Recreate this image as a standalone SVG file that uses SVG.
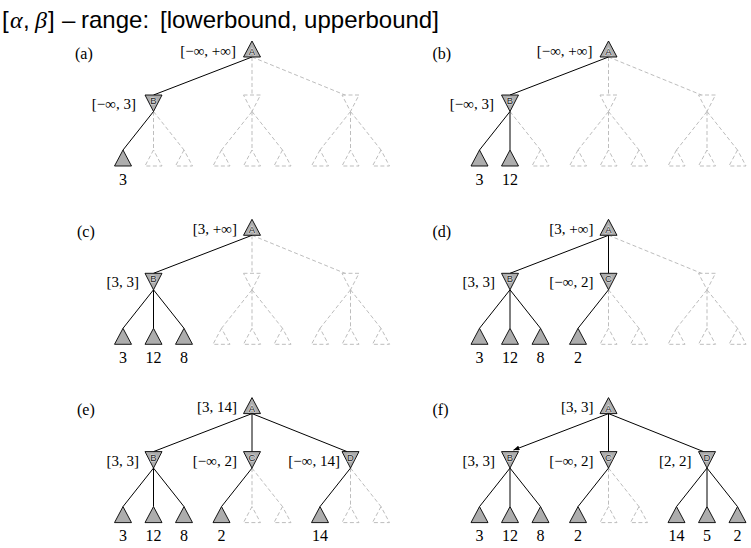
<svg xmlns="http://www.w3.org/2000/svg" width="751" height="548" viewBox="0 0 751 548">
<defs>
<marker id="arr" markerWidth="6" markerHeight="5" refX="6" refY="2.5" orient="auto" markerUnits="userSpaceOnUse">
<path d="M0,0 L6,2.5 L0,5 z" fill="#000"/>
</marker>
</defs>
<style>
.s{stroke:#000;stroke-width:1;fill:none}
.d{stroke:#bdbdbd;stroke-width:1;stroke-dasharray:4 2.5;fill:none}
.tri{fill:#adadad;stroke:#000;stroke-width:0.9}
.g{fill:none;stroke:#bdbdbd;stroke-width:1;stroke-dasharray:4 2.5}
.nl{font-family:"Liberation Sans",sans-serif;font-size:9.5px;fill:#222;stroke:#dcdcdc;stroke-width:1.2;paint-order:stroke;text-anchor:middle}
.lab{font-family:"Liberation Serif",serif;font-size:15px;text-anchor:end;fill:#000}
.val{font-family:"Liberation Serif",serif;font-size:16px;text-anchor:middle;fill:#000}
.pl{font-family:"Liberation Serif",serif;font-size:16px;fill:#000}
.title{font-family:"Liberation Sans",sans-serif;font-size:24px;fill:#000}
.gr{font-family:"Liberation Serif",serif;font-style:italic}
</style>
<text class="title" y="28"><tspan x="2">[</tspan><tspan class="gr" x="10">α</tspan><tspan x="23">,</tspan><tspan class="gr" x="35">β</tspan><tspan x="48">]</tspan><tspan x="62">–</tspan><tspan x="81">range:</tspan><tspan x="160">[lowerbound, upperbound]</tspan></text>

<!-- Panel (a) -->
<g id="panel-a">
<text class="pl" x="75" y="58.5">(a)</text>
<g id="a-edges">
<line class="d" x1="252" y1="57" x2="252" y2="95"/>
<line class="d" x1="252" y1="57" x2="345" y2="95"/>
<line class="d" x1="153.5" y1="111.5" x2="153.5" y2="150"/>
<line class="d" x1="153.5" y1="111.5" x2="184" y2="150"/>
<line class="d" x1="252" y1="111.5" x2="221.5" y2="150"/>
<line class="d" x1="252" y1="111.5" x2="252" y2="150"/>
<line class="d" x1="252" y1="111.5" x2="282.5" y2="150"/>
<line class="d" x1="350.5" y1="111.5" x2="320" y2="150"/>
<line class="d" x1="350.5" y1="111.5" x2="350.5" y2="150"/>
<line class="d" x1="350.5" y1="111.5" x2="381" y2="150"/>
<line class="s" x1="252" y1="57" x2="153.5" y2="95"/>
<line class="s" x1="153.5" y1="111.5" x2="123" y2="150"/>
</g>
<g id="a-A"><polygon class="tri" points="252,41 243.5,57 260.5,57"/><text class="nl" x="252" y="55">A</text><text class="lab" x="236" y="55.5">[−∞, +∞]</text></g>
<g id="a-B"><polygon class="tri" points="145,95 162,95 153.5,111.5"/><text class="nl" x="153.5" y="104">B</text><text class="lab" x="136" y="109">[−∞, 3]</text></g>
<g id="a-C"><polygon class="g" points="243.5,95 260.5,95 252,111.5"/></g>
<g id="a-D"><polygon class="g" points="342,95 359,95 350.5,111.5"/></g>
<g id="a-B1"><polygon class="tri" points="123,150 114.5,166 131.5,166"/><text class="val" x="123" y="184.5">3</text></g>
<g id="a-B2"><polygon class="g" points="153.5,150 145,166 162,166"/></g>
<g id="a-B3"><polygon class="g" points="184,150 175.5,166 192.5,166"/></g>
<g id="a-C1"><polygon class="g" points="221.5,150 213,166 230,166"/></g>
<g id="a-C2"><polygon class="g" points="252,150 243.5,166 260.5,166"/></g>
<g id="a-C3"><polygon class="g" points="282.5,150 274,166 291,166"/></g>
<g id="a-D1"><polygon class="g" points="320,150 311.5,166 328.5,166"/></g>
<g id="a-D2"><polygon class="g" points="350.5,150 342,166 359,166"/></g>
<g id="a-D3"><polygon class="g" points="381,150 372.5,166 389.5,166"/></g>
</g>

<!-- Panel (b) -->
<g id="panel-b" transform="translate(356.5,0)">
<text class="pl" x="76" y="58.5">(b)</text>
<g id="b-edges">
<line class="d" x1="252" y1="57" x2="252" y2="95"/>
<line class="d" x1="252" y1="57" x2="345" y2="95"/>
<line class="d" x1="153.5" y1="111.5" x2="184" y2="150"/>
<line class="d" x1="252" y1="111.5" x2="221.5" y2="150"/>
<line class="d" x1="252" y1="111.5" x2="252" y2="150"/>
<line class="d" x1="252" y1="111.5" x2="282.5" y2="150"/>
<line class="d" x1="350.5" y1="111.5" x2="320" y2="150"/>
<line class="d" x1="350.5" y1="111.5" x2="350.5" y2="150"/>
<line class="d" x1="350.5" y1="111.5" x2="381" y2="150"/>
<line class="s" x1="252" y1="57" x2="153.5" y2="95"/>
<line class="s" x1="153.5" y1="111.5" x2="123" y2="150"/>
<line class="s" x1="153.5" y1="111.5" x2="153.5" y2="150"/>
</g>
<g id="b-A"><polygon class="tri" points="252,41 243.5,57 260.5,57"/><text class="nl" x="252" y="55">A</text><text class="lab" x="236" y="55.5">[−∞, +∞]</text></g>
<g id="b-B"><polygon class="tri" points="145,95 162,95 153.5,111.5"/><text class="nl" x="153.5" y="104">B</text><text class="lab" x="137.5" y="109">[−∞, 3]</text></g>
<g id="b-C"><polygon class="g" points="243.5,95 260.5,95 252,111.5"/></g>
<g id="b-D"><polygon class="g" points="342,95 359,95 350.5,111.5"/></g>
<g id="b-B1"><polygon class="tri" points="123,150 114.5,166 131.5,166"/><text class="val" x="123" y="184.5">3</text></g>
<g id="b-B2"><polygon class="tri" points="153.5,150 145,166 162,166"/><text class="val" x="153.5" y="184.5">12</text></g>
<g id="b-B3"><polygon class="g" points="184,150 175.5,166 192.5,166"/></g>
<g id="b-C1"><polygon class="g" points="221.5,150 213,166 230,166"/></g>
<g id="b-C2"><polygon class="g" points="252,150 243.5,166 260.5,166"/></g>
<g id="b-C3"><polygon class="g" points="282.5,150 274,166 291,166"/></g>
<g id="b-D1"><polygon class="g" points="320,150 311.5,166 328.5,166"/></g>
<g id="b-D2"><polygon class="g" points="350.5,150 342,166 359,166"/></g>
<g id="b-D3"><polygon class="g" points="381,150 372.5,166 389.5,166"/></g>
</g>

<!-- Panel (c) -->
<g id="panel-c" transform="translate(0,178.3)">
<text class="pl" x="77" y="58.5">(c)</text>
<g id="c-edges">
<line class="d" x1="252" y1="57" x2="252" y2="95"/>
<line class="d" x1="252" y1="57" x2="345" y2="95"/>
<line class="d" x1="252" y1="111.5" x2="221.5" y2="150"/>
<line class="d" x1="252" y1="111.5" x2="252" y2="150"/>
<line class="d" x1="252" y1="111.5" x2="282.5" y2="150"/>
<line class="d" x1="350.5" y1="111.5" x2="320" y2="150"/>
<line class="d" x1="350.5" y1="111.5" x2="350.5" y2="150"/>
<line class="d" x1="350.5" y1="111.5" x2="381" y2="150"/>
<line class="s" x1="252" y1="57" x2="153.5" y2="95"/>
<line class="s" x1="153.5" y1="111.5" x2="123" y2="150"/>
<line class="s" x1="153.5" y1="111.5" x2="153.5" y2="150"/>
<line class="s" x1="153.5" y1="111.5" x2="184" y2="150"/>
</g>
<g id="c-A"><polygon class="tri" points="252,41 243.5,57 260.5,57"/><text class="nl" x="252" y="55">A</text><text class="lab" x="237" y="55.5">[3, +∞]</text></g>
<g id="c-B"><polygon class="tri" points="145,95 162,95 153.5,111.5"/><text class="nl" x="153.5" y="104">B</text><text class="lab" x="139" y="109">[3, 3]</text></g>
<g id="c-C"><polygon class="g" points="243.5,95 260.5,95 252,111.5"/></g>
<g id="c-D"><polygon class="g" points="342,95 359,95 350.5,111.5"/></g>
<g id="c-B1"><polygon class="tri" points="123,150 114.5,166 131.5,166"/><text class="val" x="123" y="184.5">3</text></g>
<g id="c-B2"><polygon class="tri" points="153.5,150 145,166 162,166"/><text class="val" x="153.5" y="184.5">12</text></g>
<g id="c-B3"><polygon class="tri" points="184,150 175.5,166 192.5,166"/><text class="val" x="184" y="184.5">8</text></g>
<g id="c-C1"><polygon class="g" points="221.5,150 213,166 230,166"/></g>
<g id="c-C2"><polygon class="g" points="252,150 243.5,166 260.5,166"/></g>
<g id="c-C3"><polygon class="g" points="282.5,150 274,166 291,166"/></g>
<g id="c-D1"><polygon class="g" points="320,150 311.5,166 328.5,166"/></g>
<g id="c-D2"><polygon class="g" points="350.5,150 342,166 359,166"/></g>
<g id="c-D3"><polygon class="g" points="381,150 372.5,166 389.5,166"/></g>
</g>

<!-- Panel (d) -->
<g id="panel-d" transform="translate(356.5,178.3)">
<text class="pl" x="76" y="58.5">(d)</text>
<g id="d-edges">
<line class="d" x1="252" y1="57" x2="345" y2="95"/>
<line class="d" x1="252" y1="111.5" x2="252" y2="150"/>
<line class="d" x1="252" y1="111.5" x2="282.5" y2="150"/>
<line class="d" x1="350.5" y1="111.5" x2="320" y2="150"/>
<line class="d" x1="350.5" y1="111.5" x2="350.5" y2="150"/>
<line class="d" x1="350.5" y1="111.5" x2="381" y2="150"/>
<line class="s" x1="252" y1="57" x2="153.5" y2="95"/>
<line class="s" x1="252" y1="57" x2="252" y2="95"/>
<line class="s" x1="153.5" y1="111.5" x2="123" y2="150"/>
<line class="s" x1="153.5" y1="111.5" x2="153.5" y2="150"/>
<line class="s" x1="153.5" y1="111.5" x2="184" y2="150"/>
<line class="s" x1="252" y1="111.5" x2="221.5" y2="150"/>
</g>
<g id="d-A"><polygon class="tri" points="252,41 243.5,57 260.5,57"/><text class="nl" x="252" y="55">A</text><text class="lab" x="237" y="55.5">[3, +∞]</text></g>
<g id="d-B"><polygon class="tri" points="145,95 162,95 153.5,111.5"/><text class="nl" x="153.5" y="104">B</text><text class="lab" x="138.5" y="109">[3, 3]</text></g>
<g id="d-C"><polygon class="tri" points="243.5,95 260.5,95 252,111.5"/><text class="nl" x="252" y="104">C</text><text class="lab" x="237" y="109">[−∞, 2]</text></g>
<g id="d-D"><polygon class="g" points="342,95 359,95 350.5,111.5"/></g>
<g id="d-B1"><polygon class="tri" points="123,150 114.5,166 131.5,166"/><text class="val" x="123" y="184.5">3</text></g>
<g id="d-B2"><polygon class="tri" points="153.5,150 145,166 162,166"/><text class="val" x="153.5" y="184.5">12</text></g>
<g id="d-B3"><polygon class="tri" points="184,150 175.5,166 192.5,166"/><text class="val" x="184" y="184.5">8</text></g>
<g id="d-C1"><polygon class="tri" points="221.5,150 213,166 230,166"/><text class="val" x="221.5" y="184.5">2</text></g>
<g id="d-C2"><polygon class="g" points="252,150 243.5,166 260.5,166"/></g>
<g id="d-C3"><polygon class="g" points="282.5,150 274,166 291,166"/></g>
<g id="d-D1"><polygon class="g" points="320,150 311.5,166 328.5,166"/></g>
<g id="d-D2"><polygon class="g" points="350.5,150 342,166 359,166"/></g>
<g id="d-D3"><polygon class="g" points="381,150 372.5,166 389.5,166"/></g>
</g>

<!-- Panel (e) -->
<g id="panel-e" transform="translate(0,356.6)">
<text class="pl" x="77" y="58.5">(e)</text>
<g id="e-edges">
<line class="d" x1="252" y1="111.5" x2="252" y2="150"/>
<line class="d" x1="252" y1="111.5" x2="282.5" y2="150"/>
<line class="d" x1="350.5" y1="111.5" x2="350.5" y2="150"/>
<line class="d" x1="350.5" y1="111.5" x2="381" y2="150"/>
<line class="s" x1="252" y1="57" x2="153.5" y2="95"/>
<line class="s" x1="252" y1="57" x2="252" y2="95"/>
<line class="s" x1="252" y1="57" x2="347" y2="95"/>
<line class="s" x1="153.5" y1="111.5" x2="123" y2="150"/>
<line class="s" x1="153.5" y1="111.5" x2="153.5" y2="150"/>
<line class="s" x1="153.5" y1="111.5" x2="184" y2="150"/>
<line class="s" x1="252" y1="111.5" x2="221.5" y2="150"/>
<line class="s" x1="350.5" y1="111.5" x2="320" y2="150"/>
</g>
<g id="e-A"><polygon class="tri" points="252,41 243.5,57 260.5,57"/><text class="nl" x="252" y="55">A</text><text class="lab" x="237" y="55.5">[3, 14]</text></g>
<g id="e-B"><polygon class="tri" points="145,95 162,95 153.5,111.5"/><text class="nl" x="153.5" y="104">B</text><text class="lab" x="139" y="109">[3, 3]</text></g>
<g id="e-C"><polygon class="tri" points="243.5,95 260.5,95 252,111.5"/><text class="nl" x="252" y="104">C</text><text class="lab" x="237" y="109">[−∞, 2]</text></g>
<g id="e-D"><polygon class="tri" points="342,95 359,95 350.5,111.5"/><text class="nl" x="350.5" y="104">D</text><text class="lab" x="340" y="109">[−∞, 14]</text></g>
<g id="e-B1"><polygon class="tri" points="123,150 114.5,166 131.5,166"/><text class="val" x="123" y="184.5">3</text></g>
<g id="e-B2"><polygon class="tri" points="153.5,150 145,166 162,166"/><text class="val" x="153.5" y="184.5">12</text></g>
<g id="e-B3"><polygon class="tri" points="184,150 175.5,166 192.5,166"/><text class="val" x="184" y="184.5">8</text></g>
<g id="e-C1"><polygon class="tri" points="221.5,150 213,166 230,166"/><text class="val" x="221.5" y="184.5">2</text></g>
<g id="e-C2"><polygon class="g" points="252,150 243.5,166 260.5,166"/></g>
<g id="e-C3"><polygon class="g" points="282.5,150 274,166 291,166"/></g>
<g id="e-D1"><polygon class="tri" points="320,150 311.5,166 328.5,166"/><text class="val" x="320" y="184.5">14</text></g>
<g id="e-D2"><polygon class="g" points="350.5,150 342,166 359,166"/></g>
<g id="e-D3"><polygon class="g" points="381,150 372.5,166 389.5,166"/></g>
</g>

<!-- Panel (f) -->
<g id="panel-f" transform="translate(356.5,356.6)">
<text class="pl" x="76" y="58.5">(f)</text>
<g id="f-edges">
<line class="d" x1="252" y1="111.5" x2="252" y2="150"/>
<line class="d" x1="252" y1="111.5" x2="282.5" y2="150"/>
<line class="s" x1="252" y1="57" x2="157" y2="93.5" marker-end="url(#arr)"/>
<line class="s" x1="252" y1="57" x2="252" y2="95"/>
<line class="s" x1="252" y1="57" x2="347" y2="95"/>
<line class="s" x1="153.5" y1="111.5" x2="123" y2="150"/>
<line class="s" x1="153.5" y1="111.5" x2="153.5" y2="150"/>
<line class="s" x1="153.5" y1="111.5" x2="184" y2="150"/>
<line class="s" x1="252" y1="111.5" x2="221.5" y2="150"/>
<line class="s" x1="350.5" y1="111.5" x2="320" y2="150"/>
<line class="s" x1="350.5" y1="111.5" x2="350.5" y2="150"/>
<line class="s" x1="350.5" y1="111.5" x2="381" y2="150"/>
</g>
<g id="f-A"><polygon class="tri" points="252,41 243.5,57 260.5,57"/><text class="nl" x="252" y="55">A</text><text class="lab" x="237" y="55.5">[3, 3]</text></g>
<g id="f-B"><polygon class="tri" points="145,95 162,95 153.5,111.5"/><text class="nl" x="153.5" y="104">B</text><text class="lab" x="138.5" y="109">[3, 3]</text></g>
<g id="f-C"><polygon class="tri" points="243.5,95 260.5,95 252,111.5"/><text class="nl" x="252" y="104">C</text><text class="lab" x="237" y="109">[−∞, 2]</text></g>
<g id="f-D"><polygon class="tri" points="342,95 359,95 350.5,111.5"/><text class="nl" x="350.5" y="104">D</text><text class="lab" x="335" y="109">[2, 2]</text></g>
<g id="f-B1"><polygon class="tri" points="123,150 114.5,166 131.5,166"/><text class="val" x="123" y="184.5">3</text></g>
<g id="f-B2"><polygon class="tri" points="153.5,150 145,166 162,166"/><text class="val" x="153.5" y="184.5">12</text></g>
<g id="f-B3"><polygon class="tri" points="184,150 175.5,166 192.5,166"/><text class="val" x="184" y="184.5">8</text></g>
<g id="f-C1"><polygon class="tri" points="221.5,150 213,166 230,166"/><text class="val" x="221.5" y="184.5">2</text></g>
<g id="f-C2"><polygon class="g" points="252,150 243.5,166 260.5,166"/></g>
<g id="f-C3"><polygon class="g" points="282.5,150 274,166 291,166"/></g>
<g id="f-D1"><polygon class="tri" points="320,150 311.5,166 328.5,166"/><text class="val" x="320" y="184.5">14</text></g>
<g id="f-D2"><polygon class="tri" points="350.5,150 342,166 359,166"/><text class="val" x="350.5" y="184.5">5</text></g>
<g id="f-D3"><polygon class="tri" points="381,150 372.5,166 389.5,166"/><text class="val" x="381" y="184.5">2</text></g>
</g>
</svg>
